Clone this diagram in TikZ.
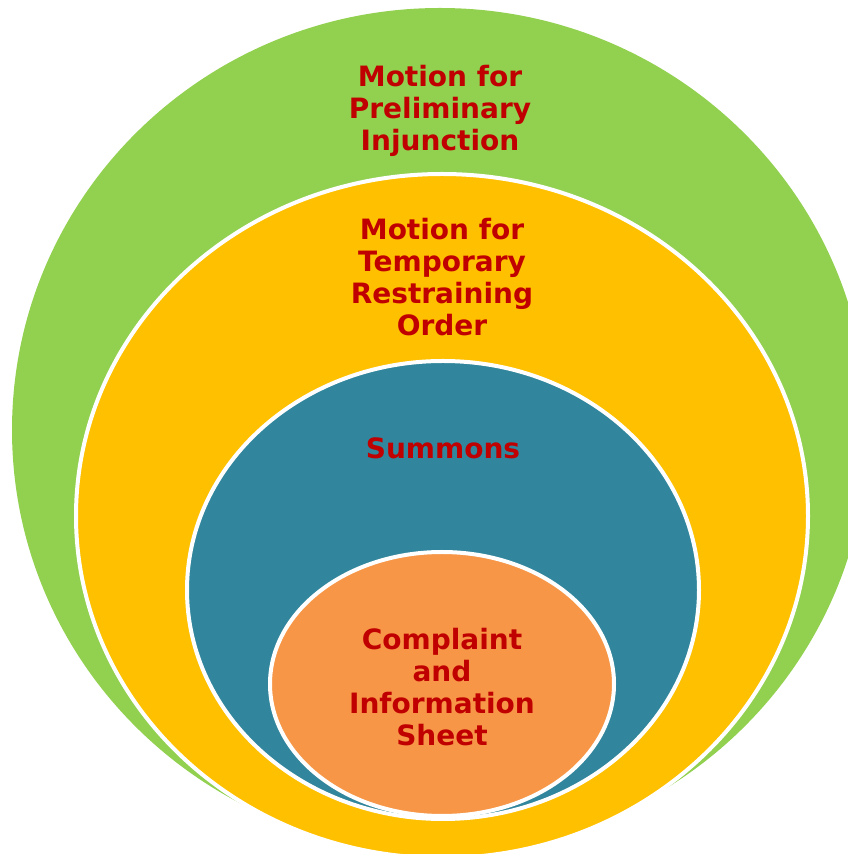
\documentclass[tikz,border=0pt]{standalone}
\usepackage{fontspec}
\setmainfont{DejaVu Sans}
\usepackage{xcolor}
\usetikzlibrary{shapes.geometric}

\definecolor{ringgreen}{HTML}{92D050}
\definecolor{ringyellow}{HTML}{FFC000}
\definecolor{ringteal}{HTML}{31859C}
\definecolor{ringorange}{HTML}{F79646}
\definecolor{textred}{HTML}{C00000}

\begin{document}
\begin{tikzpicture}[x=1pt,y=1pt,
      ring/.style={
        ellipse,
        draw=white,
        line width=4pt,
        inner sep=0pt
      },
      lbl/.style={
        align=center,
        text=textred,
        font=\bfseries\fontsize{28}{32}\selectfont
      }]

    \useasboundingbox (0,0) rectangle (848,854);
    \clip (0,0) rectangle (848,854);

    \node[ring,draw=none,fill=ringgreen,minimum width=856,minimum height=844] (G) at (440,424) {};
    \node[ring,fill=ringyellow,minimum width=732,minimum height=684] (Y) at (442,338) {};
    \node[ring,fill=ringteal,minimum width=512,minimum height=458] (T) at (443,264) {};
    \node[ring,fill=ringorange,minimum width=344,minimum height=264] (O) at (442,170) {};

    \node[lbl] (GT) at (440,743) {Motion for\\Preliminary\\Injunction};
    \node[lbl] (YT) at (442,577) {Motion for\\Temporary\\Restraining\\Order};
    \node[lbl] (TT) at (443,406) {Summons};
    \node[lbl] (OT) at (442,167) {Complaint\\and\\Information\\Sheet};
  \end{tikzpicture}
\end{document}
